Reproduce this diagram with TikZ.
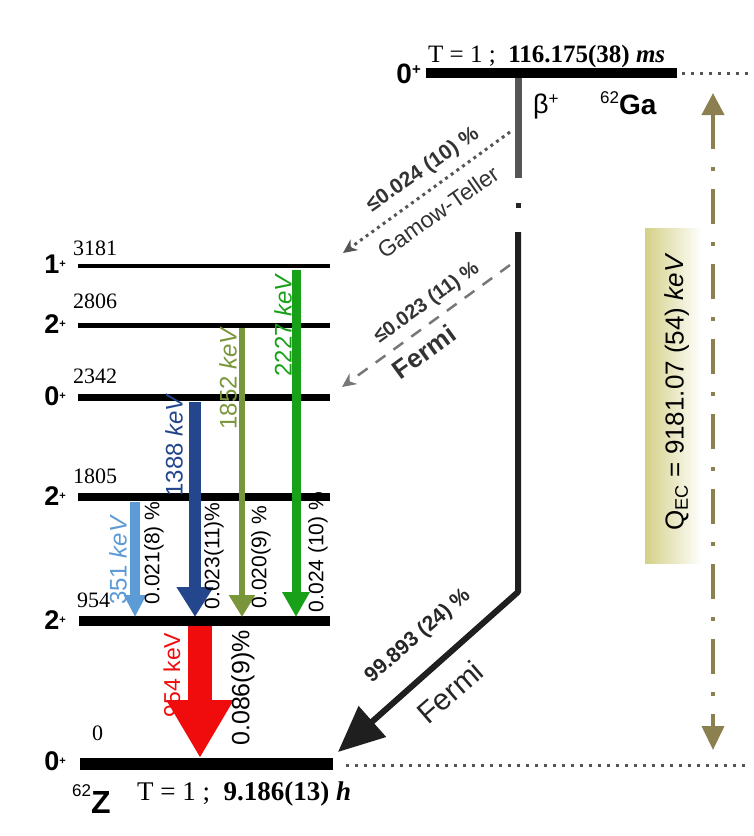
\documentclass[tikz,border=0pt]{standalone}
\usepackage{fontspec}
\setmainfont{Liberation Serif}
\setsansfont{Liberation Sans}
\usetikzlibrary{arrows.meta}
\definecolor{cA}{RGB}{92,155,214}
\definecolor{cB}{RGB}{36,70,140}
\definecolor{cC}{RGB}{122,150,58}
\definecolor{cD}{RGB}{24,160,24}
\definecolor{cR}{RGB}{240,12,12}
\definecolor{qol}{RGB}{140,128,80}
\definecolor{qbox}{RGB}{212,208,135}
\definecolor{dg}{RGB}{85,85,85}
\newcommand{\fsz}[1]{\fontsize{#1}{#1}\selectfont}
\newcommand{\spinp}{{\fsz{11}\raisebox{6pt}{+}}}
\begin{document}
\begin{tikzpicture}[x=1pt,y=-1pt,
  elab/.style={font=\fsz{22}, anchor=base west, inner sep=0pt},
  spin/.style={font=\sffamily\bfseries\fsz{27}, anchor=east, inner sep=0pt},
  glab/.style={font=\sffamily\fsz{24}, rotate=90, inner sep=0pt},
  ilab/.style={font=\sffamily\fsz{21}, rotate=90, inner sep=0pt},
  dlab/.style={font=\sffamily\bfseries\fsz{21}, inner sep=0pt},
]
\useasboundingbox (0,0) rectangle (753,836);

% ---------- Q_EC box ----------
\shade[left color=qbox, right color=white] (645,228) rectangle (702,563);
\node[font=\sffamily\fsz{26}, rotate=90, inner sep=0pt] (qec) at (677,392)
  {Q\textsubscript{EC} = 9181.07 (54) \textit{keV}};

% ---------- parent level ----------
\coordinate (gaL) at (426,73); \coordinate (gaR) at (677,73);
\draw[line width=10] (gaL) -- (gaR);
\coordinate (gaD) at (750,73);
\draw[dg, line width=3, dash pattern=on 3pt off 6pt] (682,73) -- (gaD);
\node[font=\sffamily\bfseries\fsz{28}, anchor=base east, inner sep=0pt] (gaspin) at (421,83) {0\raisebox{9pt}{\fsz{15}+}};
\node[anchor=base west, inner sep=0pt, font=\fsz{25}] (gaT) at (428,62)
  {T = 1 ;\ \ \textbf{116.175(38)} \textbf{\textit{ms}}};
\node[anchor=base west, inner sep=0pt, font=\sffamily\fsz{27}] (beta) at (533,113) {β\raisebox{9pt}{\fsz{17}+}};
\node[anchor=base west, inner sep=0pt] (ga) at (600,114)
  {\sffamily{\fsz{17}\raisebox{11pt}{62}}{\bfseries\fsz{28}Ga}};

% ---------- daughter levels ----------
\coordinate (a3181) at (78,266);  \coordinate (b3181) at (330,266);
\coordinate (a2806) at (78,325);  \coordinate (b2806) at (330,325);
\coordinate (a2342) at (78,397);  \coordinate (b2342) at (330,397);
\coordinate (a1805) at (78,497);  \coordinate (b1805) at (330,497);
\coordinate (a954)  at (79,621);  \coordinate (b954)  at (330,621);
\coordinate (a0)    at (80,764);  \coordinate (b0)    at (333,764);
\draw[line width=4]  (a3181) -- (b3181);
\draw[line width=5]  (a2806) -- (b2806);
\draw[line width=7]  (a2342) -- (b2342);
\draw[line width=8]  (a1805) -- (b1805);
\draw[line width=10] (a954) -- (b954);
\draw[line width=12] (a0) -- (b0);
\coordinate (zD) at (750,765);
\draw[dg, line width=3, dash pattern=on 3pt off 6pt] (346,765) -- (zD);

\node[elab] (e3181) at (73,255) {3181};
\node[elab] (e2806) at (73,308) {2806};
\node[elab] (e2342) at (73,383) {2342};
\node[elab] (e1805) at (73,483) {1805};
\node[elab] (e954)  at (77,607) {954};
\node[elab] (e0)    at (92,740) {0};

\node[spin] (s3181) at (66,264) {1\spinp};
\node[spin] (s2806) at (66,324) {2\spinp};
\node[spin] (s2342) at (66,396) {0\spinp};
\node[spin] (s1805) at (66,496) {2\spinp};
\node[spin] (s954)  at (66,620) {2\spinp};
\node[spin] (s0)    at (66,761) {0\spinp};

\node[anchor=base west, inner sep=0pt] (zn) at (72,813)
  {\sffamily{\fsz{17}\raisebox{17pt}{62}}{\bfseries\fsz{32}Z}};
\node[anchor=base west, inner sep=0pt, font=\fsz{27}] (zT) at (137,800)
  {T = 1 ;\ \ \textbf{9.186(13)} \textbf{\textit{h}}};

% ---------- gamma transitions ----------
\coordinate (g2227s) at (296,270); \coordinate (g2227e) at (296,617);
\coordinate (g1852s) at (242,328); \coordinate (g1852e) at (242,617);
\coordinate (g1388s) at (195,402); \coordinate (g1388e) at (195,617);
\coordinate (g351s)  at (135,502); \coordinate (g351e)  at (135,617);
\coordinate (g954s)  at (200,626); \coordinate (g954e)  at (200,758);
\draw[cD, line width=9, -{Triangle[width=26pt,length=25pt]}] (g2227s) -- (g2227e);
\draw[cC, line width=6, -{Triangle[width=25pt,length=22pt]}] (g1852s) -- (g1852e);
\draw[cB, line width=12, -{Triangle[width=35pt,length=30pt]}] (g1388s) -- (g1388e);
\draw[cA, line width=10, -{Triangle[width=21pt,length=22pt]}] (g351s) -- (g351e);
\draw[cR, line width=24, -{Triangle[width=63pt,length=58pt]}] (g954s) -- (g954e);

\node[glab, text=cA] (l351)  at (118,560) {351 \textit{keV}};
\node[glab, text=cB] (l1388) at (174,445) {1388 \textit{keV}};
\node[glab, text=cC] (l1852) at (228,378) {1852 \textit{keV}};
\node[glab, text=cD] (l2227) at (283,325) {2227 \textit{keV}};
\node[glab, text=cR, font=\sffamily\fsz{23}] (l954) at (172,675) {954 keV};
\node[ilab] (i351)  at (154,553) {0.021(8) \%};
\node[ilab] (i1388) at (214,556) {0.023(11)\%};
\node[ilab] (i1852) at (261,557) {0.020(9) \%};
\node[ilab] (i2227) at (318,552) {0.024 (10) \%};
\node[ilab, font=\sffamily\fsz{25}] (i954) at (243,688) {0.086(9)\%};

% ---------- beta branches ----------
\coordinate (bt0) at (518,78);
\coordinate (bt1) at (518,178);
\coordinate (bt2) at (518,232);
\coordinate (bt3) at (518,592);
\coordinate (gsT) at (338,752);
\draw[dg, line width=7] (bt0) -- (bt1);
\fill[black!85] (515.5,202.5) rectangle (520.5,207.5);
\draw[black!88, line width=6, line join=round, -{Triangle[width=40pt,length=46pt]}] (bt2) -- (bt3) -- (gsT);

\coordinate (gtS) at (510,132); \coordinate (gtE) at (343,253);
\draw[dg, line width=3, dash pattern=on 3pt off 4pt, -{Stealth[width=13pt,length=14pt]}] (gtS) -- (gtE);
\coordinate (fS) at (510,265); \coordinate (fE) at (342,387);
\draw[dg!80, line width=2.5, dash pattern=on 12pt off 10pt, -{Stealth[width=13pt,length=14pt]}] (fS) -- (fE);

\node[dlab, rotate=35, text=black!80] (gtp) at (423,170) {≤0.024 (10) \%};
\node[font=\sffamily\fsz{23}, rotate=35, inner sep=0pt, text=black!80] (gtl) at (438,212) {Gamow-Teller};
\node[dlab, rotate=36, font=\sffamily\bfseries\fsz{20}, text=black!80] (fp) at (427,303) {≤0.023 (11) \%};
\node[dlab, rotate=36, font=\sffamily\bfseries\fsz{26}, text=black!80] (fl) at (424,352) {Fermi};
\node[dlab, rotate=41, text=black!85] (mp) at (418,636) {99.893 (24) \%};
\node[font=\sffamily\fsz{30}, rotate=41, inner sep=0pt, text=black!85] (ml) at (450,692) {Fermi};

% ---------- Q_EC arrow ----------
\coordinate (qT) at (713,93); \coordinate (qB) at (713,750);
\draw[qol, line width=4, dash pattern=on 35pt off 18pt on 4pt off 18pt,
  {Triangle[width=22pt,length=22pt]}-{Triangle[width=22pt,length=24pt]}] (qT) -- (qB);
\end{tikzpicture}
\end{document}
